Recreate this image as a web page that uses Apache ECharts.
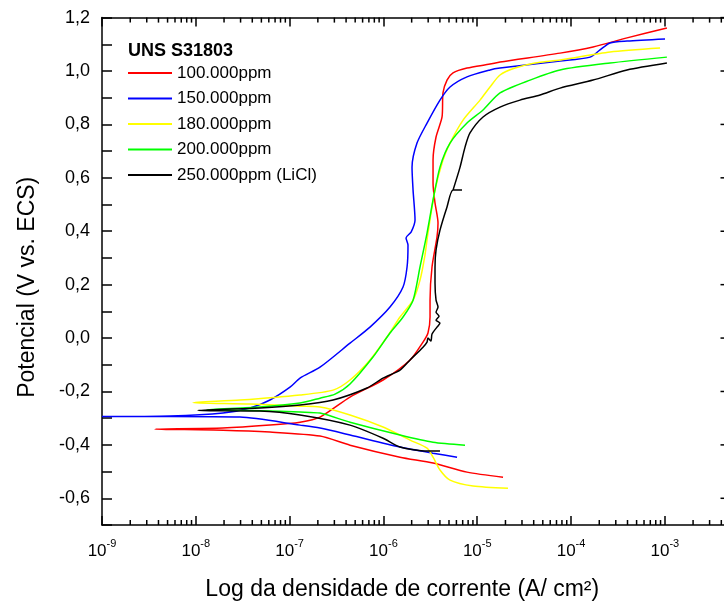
<!DOCTYPE html>
<html><head><meta charset="utf-8">
<script src="https://cdn.jsdelivr.net/npm/echarts@6/dist/echarts.min.js"></script>
<style>html,body{margin:0;padding:0;background:#fff}#c{width:724px;height:607px}</style>
</head><body><div id="c"></div>
<script>
// x: log10 of current density (A/cm2), y: potential (V vs. ECS)
const legendTitle = 'UNS S31803';
const seriesNames = ['100.000ppm', '150.000ppm', '180.000ppm', '200.000ppm', '250.000ppm (LiCl)'];

const curve100 = [[-4.725,-0.521],[-5.109,-0.502],[-5.471,-0.468],[-5.823,-0.446],[-6.356,-0.401],[-6.676,-0.367],[-7.209,-0.352],[-7.710,-0.345],[-8.435,-0.341],
  [-7.710,-0.337],[-7.209,-0.326],[-6.889,-0.315],[-6.676,-0.296],[-6.356,-0.221],[-6.004,-0.157],[-5.716,-0.082],[-5.578,-0.015],[-5.525,0.019],[-5.503,0.079],[-5.503,0.142],[-5.482,0.266],[-5.429,0.378],[-5.418,0.431],[-5.450,0.506],[-5.471,0.581],[-5.471,0.667],[-5.439,0.753],[-5.375,0.828],[-5.365,0.918],[-5.322,0.966],[-5.258,0.993],[-5.109,1.011],[-4.864,1.026],[-4.757,1.034],[-4.117,1.067],[-3.765,1.090],[-3.403,1.124],[-2.978,1.161]];

const curve150 = [[-5.215,-0.446],[-5.471,-0.431],[-5.823,-0.408],[-6.356,-0.363],[-6.676,-0.337],[-6.889,-0.326],[-7.529,-0.296],[-8.275,-0.294],[-9.0,-0.294],
  [-8.275,-0.292],[-7.710,-0.281],[-7.422,-0.262],[-7.209,-0.232],[-6.996,-0.184],[-6.889,-0.150],[-6.676,-0.109],[-6.356,-0.019],[-6.143,0.041],[-5.930,0.116],[-5.791,0.191],[-5.748,0.266],[-5.738,0.348],[-5.759,0.375],[-5.705,0.397],[-5.663,0.442],[-5.684,0.554],[-5.695,0.640],[-5.642,0.730],[-5.535,0.805],[-5.397,0.891],[-5.290,0.940],[-5.109,0.978],[-4.864,1.004],[-4.757,1.011],[-4.117,1.037],[-3.797,1.052],[-3.691,1.079],[-3.584,1.105],[-3.403,1.112],[-2.998,1.120]];

const curve180 = [[-4.672,-0.562],[-5.045,-0.554],[-5.290,-0.532],[-5.397,-0.494],[-5.471,-0.446],[-5.535,-0.412],[-5.716,-0.382],[-6.004,-0.333],[-6.356,-0.288],[-6.676,-0.258],[-6.889,-0.255],[-7.422,-0.247],[-8.030,-0.242],
  [-7.529,-0.232],[-6.889,-0.213],[-6.537,-0.195],[-6.356,-0.157],[-6.143,-0.082],[-5.962,0.004],[-5.823,0.079],[-5.684,0.142],[-5.610,0.217],[-5.557,0.311],[-5.525,0.393],[-5.450,0.554],[-5.365,0.667],[-5.290,0.730],[-5.151,0.816],[-4.970,0.891],[-4.864,0.940],[-4.757,0.985],[-4.597,1.011],[-4.384,1.030],[-4.117,1.041],[-3.584,1.071],[-3.051,1.086]];

const curve200 = [[-5.130,-0.401],[-5.471,-0.390],[-5.823,-0.363],[-6.356,-0.315],[-6.676,-0.281],[-6.889,-0.277],[-7.316,-0.272],[-7.881,-0.268],
  [-7.316,-0.258],[-6.889,-0.243],[-6.676,-0.225],[-6.516,-0.210],[-6.356,-0.172],[-6.111,-0.071],[-5.930,0.019],[-5.791,0.079],[-5.684,0.142],[-5.610,0.266],[-5.535,0.393],[-5.471,0.517],[-5.397,0.640],[-5.290,0.730],[-5.109,0.805],[-4.938,0.854],[-4.757,0.918],[-4.437,0.966],[-4.117,1.004],[-3.584,1.030],[-2.978,1.052]];

const curve250 = [[-5.397,-0.423],[-5.535,-0.423],[-5.823,-0.408],[-6.004,-0.375],[-6.356,-0.326],[-6.889,-0.288],[-7.316,-0.273],[-7.977,-0.271],
  [-7.316,-0.262],[-6.889,-0.251],[-6.537,-0.232],[-6.175,-0.187],[-6.004,-0.150],[-5.823,-0.120],[-5.716,-0.082],[-5.578,-0.034],[-5.535,-0.015],[-5.525,0.000],[-5.493,-0.011],[-5.482,0.015],[-5.429,0.041],[-5.397,0.056],[-5.439,0.067],[-5.407,0.082],[-5.439,0.097],[-5.418,0.116],[-5.439,0.142],[-5.450,0.206],[-5.450,0.266],[-5.439,0.330],[-5.397,0.404],[-5.322,0.491],[-5.258,0.554],[-5.162,0.554],[-5.258,0.554],[-5.183,0.640],[-5.130,0.715],[-5.077,0.768],[-4.938,0.828],[-4.757,0.865],[-4.544,0.891],[-4.330,0.910],[-4.117,0.936],[-3.765,0.966],[-3.403,1.004],[-2.978,1.030]];

const xTickExponents = [-9, -8, -7, -6, -5, -4, -3];
const xMinorMultipliers = [2, 3, 4, 5, 6, 7, 8, 9];
const yRightTicks = [-0.6, -0.4, -0.2, 0.0, 0.2, 0.4, 0.6, 0.8, 1.0, 1.2];
const X_MIN = -9, X_MAX = -2.3, Y_MIN = -0.7, Y_MAX = 1.2;

const FONT = "'Liberation Sans', Arial, sans-serif";
const curves = [curve100, curve150, curve180, curve200, curve250];
const colors = ['#ff0000', '#0000ff', '#ffff00', '#00ff00', '#000000'];

// minor / extra axis ticks (bottom, top, right) placed through the axis scales
const tickData = [];
xTickExponents.forEach(function (e) {
  xMinorMultipliers.forEach(function (m) {
    const v = e + Math.log10(m);
    if (v <= X_MAX) { tickData.push([v, Y_MIN, 0]); tickData.push([v, Y_MAX, 1]); }
  });
});
yRightTicks.forEach(function (y) { tickData.push([X_MAX, y, 2]); });

const lineSeries = curves.map(function (c, i) {
  return {
    name: seriesNames[i], type: 'line', data: c, showSymbol: false, symbol: 'none',
    smooth: 0.25, smoothMonotone: 'none',
    lineStyle: { color: colors[i], width: 1.5 }, itemStyle: { color: colors[i] },
    emphasis: { disabled: true }, z: 3 + i
  };
});

const chart = echarts.init(document.getElementById('c'), null, { renderer: 'canvas' });
chart.setOption({
  backgroundColor: '#ffffff',
  animation: false,
  title: {
    text: legendTitle, left: 128, top: 42, padding: 0,
    textStyle: { fontFamily: FONT, fontSize: 18, fontWeight: 'bold', color: '#000' }
  },
  legend: {
    data: seriesNames, orient: 'vertical', left: 128, top: 63, padding: 0,
    itemGap: 5.5, itemWidth: 44, itemHeight: 2, icon: 'rect',
    textStyle: { fontFamily: FONT, fontSize: 17, color: '#000', lineHeight: 20 }
  },
  grid: { left: 102, right: -6.5, top: 17.6, bottom: 82, outerBoundsMode: 'none' },
  xAxis: [{
    type: 'value', position: 'bottom', min: X_MIN, max: X_MAX, interval: 1,
    name: 'Log da densidade de corrente (A/ cm\u00B2)', nameLocation: 'middle', nameGap: 53,
    nameTextStyle: { fontFamily: FONT, fontSize: 23, color: '#000', padding: [0, 28, 0, 0] },
    axisLine: { show: true, onZero: false, lineStyle: { color: '#000', width: 1.5 } },
    axisTick: { show: true, inside: true, length: 9, lineStyle: { color: '#000', width: 1.5 } },
    splitLine: { show: false },
    axisLabel: {
      margin: 13, showMaxLabel: false,
      formatter: function (v) {
        const r = Math.round(v);
        if (Math.abs(v - r) > 1e-6 || xTickExponents.indexOf(r) < 0) return '';
        return '{b|10}{s|' + r + '}';
      },
      rich: {
        b: { fontFamily: FONT, fontSize: 17, color: '#000', lineHeight: 22, verticalAlign: 'bottom' },
        s: { fontFamily: FONT, fontSize: 11, color: '#000', lineHeight: 11, verticalAlign: 'top' }
      }
    }
  }, {
    type: 'value', position: 'top', min: X_MIN, max: X_MAX, interval: 1,
    axisLine: { show: true, onZero: false, lineStyle: { color: '#000', width: 1.5 } },
    axisTick: { show: true, inside: true, length: 9, lineStyle: { color: '#000', width: 1.5 } },
    axisLabel: { show: false }, splitLine: { show: false }
  }],
  yAxis: [{
    type: 'value', position: 'left', min: Y_MIN, max: Y_MAX, interval: 0.1,
    name: 'Potencial (V vs. ECS)', nameLocation: 'middle', nameGap: 63,
    nameTextStyle: { fontFamily: FONT, fontSize: 23, color: '#000', padding: [0, 32, 0, 0] },
    axisLine: { show: true, onZero: false, lineStyle: { color: '#000', width: 1.5 } },
    axisTick: { show: true, inside: true, length: 10, lineStyle: { color: '#000', width: 1.5 } },
    splitLine: { show: false },
    axisLabel: {
      margin: 12, fontFamily: FONT, fontSize: 18, color: '#000',
      formatter: function (v) {
        const r = Math.round(v * 10);
        if (r % 2 !== 0) return '';
        return (r / 10).toFixed(1).replace('.', ',');
      }
    }
  }, {
    type: 'value', position: 'right', min: Y_MIN, max: Y_MAX, interval: 0.1,
    axisLine: { show: true, onZero: false, lineStyle: { color: '#000', width: 1.5 } },
    axisTick: { show: false }, axisLabel: { show: false }, splitLine: { show: false }
  }],
  series: lineSeries.concat([{
    name: 'ticks', type: 'custom', coordinateSystem: 'cartesian2d', xAxisIndex: 0, yAxisIndex: 0,
    silent: true, clip: false, z: 10,
    encode: { x: 0, y: 1 },
    data: tickData,
    renderItem: function (params, api) {
      const kind = api.value(2);
      const p = api.coord([api.value(0), api.value(1)]);
      let shape;
      if (kind === 0) shape = { x1: p[0], y1: p[1], x2: p[0], y2: p[1] - 5 };
      else if (kind === 1) shape = { x1: p[0], y1: p[1], x2: p[0], y2: p[1] + 5 };
      else shape = { x1: p[0], y1: p[1], x2: p[0] - 10, y2: p[1] };
      return { type: 'line', shape: shape, style: { stroke: '#000', lineWidth: 1.5 } };
    }
  }])
});
</script></body></html>
